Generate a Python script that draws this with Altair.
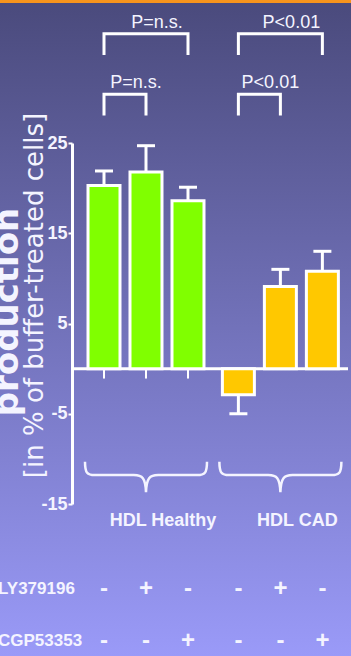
import altair as alt
import pandas as pd

# ---- data -------------------------------------------------------------
group_names = ["HDL Healthy", "HDL CAD"]
bar_groups = ["HDL Healthy", "HDL Healthy", "HDL Healthy", "HDL CAD", "HDL CAD", "HDL CAD"]
values = [20.3, 21.8, 18.6, -2.9, 9.1, 10.8]
errors = [1.6, 2.9, 1.5, 2.1, 1.9, 2.2]
ly379196 = ["-", "+", "-", "-", "+", "-"]
cgp53353 = ["-", "-", "+", "-", "-", "+"]
row_names = ["LY379196", "CGP53353"]

# pairwise comparisons (bar index a vs bar index b)
cmp_first = [0, 0, 3, 3]
cmp_second = [2, 1, 5, 4]
cmp_labels = ["P=n.s.", "P=n.s.", "P<0.01", "P<0.01"]

y_ticks = [-15, -5, 5, 15, 25]

# ---- layout -----------------------------------------------------------
W, H = 276, 361
PAD = {"left": 72, "top": 143, "right": 3, "bottom": 152}
GROUP_GAP = 0.2
WHITE = "#f4f4ff"
SANS = "Liberation Sans"

x_scale = alt.Scale(domain=[-0.762, 5.81], nice=False, zero=False, padding=0)
y_scale = alt.Scale(domain=[-15, 25], nice=False, zero=False, padding=0)

Y_AXIS = alt.Axis(
    values=y_ticks, labelExpr="'' + datum.value",
    title="[in % of buffer-treated cells]", grid=False,
    domainColor="white", domainWidth=3, tickColor="white", tickWidth=2,
    tickSize=4, labelColor=WHITE, labelFont=SANS,
    labelFontSize=18, labelFontWeight="bold", labelPadding=1,
    titleFont="DejaVu Sans", titleFontSize=26, titleFontWeight="normal",
    titleColor=WHITE, titleAngle=270, titleX=-30, titleY=152,
    titleBaseline="alphabetic", titleAlign="center", zindex=1)

group_idx = [group_names.index(g) for g in bar_groups]
pos = [i + GROUP_GAP * gi for i, gi in enumerate(group_idx)]
tips = [v + e if v >= 0 else v - e for v, e in zip(values, errors)]

bars = pd.DataFrame({
    "group": bar_groups, "pos": pos, "value": values, "tip": tips,
    "zero": [0.0] * len(values), "tick_end": [-1.1] * len(values),
})

X = alt.X("pos:Q", scale=x_scale, axis=None)


def Y(field):
    return alt.Y(field, scale=y_scale, axis=Y_AXIS)


# panel with a vertical gradient and the orange top stripe
one = pd.DataFrame({"k": [0]})
background = alt.Chart(one).mark_rect(
    fill={"gradient": "linear", "x1": 0, "y1": 0, "x2": 0, "y2": 1,
          "stops": [{"offset": 0, "color": "#4a4a7c"},
                    {"offset": 1, "color": "#9a9af8"}]}
).encode(
    x=alt.value(-PAD["left"]), x2=alt.value(W + PAD["right"]),
    y=alt.value(-PAD["top"]), y2=alt.value(H + PAD["bottom"]),
)
stripe = alt.Chart(one).mark_rect(fill="#f7941d").encode(
    x=alt.value(-PAD["left"]), x2=alt.value(W + PAD["right"]),
    y=alt.value(-PAD["top"]), y2=alt.value(-PAD["top"] + 3),
)

# bars
bar_layer = alt.Chart(bars).mark_bar(
    size=32, stroke="white", strokeWidth=3, orient="vertical"
).encode(
    x=X, y=Y("value:Q"), y2="zero:Q",
    color=alt.Color("group:N", scale=alt.Scale(domain=group_names,
                    range=["#80ff00", "#ffc800"]), legend=None),
)

# one-sided error bars
stems = alt.Chart(bars).mark_rule(color="white", strokeWidth=3).encode(
    x=X, y=Y("value:Q"), y2="tip:Q")
caps = alt.Chart(bars).mark_tick(
    color="white", orient="horizontal", size=18, thickness=3, opacity=1
).encode(x=X, y=Y("tip:Q"))

# zero line and category ticks of the healthy group
zero = alt.Chart(bars.head(1)).mark_rule(color="white", strokeWidth=3).encode(
    y=Y("zero:Q"))
xticks = alt.Chart(bars[bars.group == "HDL Healthy"]).mark_rule(
    color="white", strokeWidth=2).encode(x=X, y=Y("zero:Q"), y2="tick_end:Q")

# significance brackets
br_rows, br_text = [], []
for k, (a, b, lab) in enumerate(zip(cmp_first, cmp_second, cmp_labels)):
    top = 30.4 + (b - a - 1) * 6.7
    leg = top - 2.35
    for o, (p, yv) in enumerate([(pos[a], leg), (pos[a], top),
                                 (pos[b], top), (pos[b], leg)]):
        br_rows.append({"cmp": k, "o": o, "pos": p, "y": yv})
    br_text.append({"pos": (pos[a] + pos[b]) / 2, "y": top + 0.65, "label": lab})

brackets = alt.Chart(pd.DataFrame(br_rows)).mark_line(
    color="white", strokeWidth=3, strokeJoin="miter", strokeCap="butt"
).encode(x=X, y=Y("y:Q"), detail="cmp:N", order="o:Q")
bracket_labels = alt.Chart(pd.DataFrame(br_text)).mark_text(
    font=SANS, fontSize=18, color=WHITE, baseline="alphabetic", dx=11
).encode(x=X, y=Y("y:Q"), text="label:N")

# group braces and names
centers = [sum(p for p, g in zip(pos, bar_groups) if g == n) / 3 for n in group_names]
grp = pd.DataFrame({"group": group_names, "pos": centers,
                    "brace_y": [-11.8] * 2, "label_y": [-16.85] * 2})
BRACE = ("M-1,-0.22 C-1,-0.03 -0.96,0 -0.84,0 L-0.2,0 C-0.06,0 -0.01,0.04 0,0.28 "
         "C0.01,0.04 0.06,0 0.2,0 L0.84,0 C0.96,0 1,-0.03 1,-0.22")
braces = alt.Chart(grp).mark_point(
    shape=BRACE, size=14884, filled=False, color=WHITE, strokeWidth=2.5, opacity=1
).encode(x=X, y=Y("brace_y:Q"))
group_labels = alt.Chart(grp).mark_text(
    font=SANS, fontSize=18, fontWeight="bold", color=WHITE, dx=17
).encode(x=X, y=Y("label_y:Q"), text="group:N")

# treatment table below the chart
row_level = {"LY379196": -24.4, "CGP53353": -30.2}
signs = pd.DataFrame(
    [{"row": "LY379196", "pos": p, "sign": s, "y": row_level["LY379196"]}
     for p, s in zip(pos, ly379196)] +
    [{"row": "CGP53353", "pos": p, "sign": s, "y": row_level["CGP53353"]}
     for p, s in zip(pos, cgp53353)])
sign_text = alt.Chart(signs).mark_text(
    font=SANS, fontSize=24, fontWeight="bold", color=WHITE
).encode(x=X, y=Y("y:Q"), text="sign:N")
rows = pd.DataFrame({"row": row_names, "y": [row_level[r] for r in row_names]})
row_text = alt.Chart(rows).mark_text(
    font=SANS, fontSize=17, fontWeight="bold", color=WHITE, align="left"
).encode(x=alt.value(-74), y=Y("y:Q"), text="row:N")

# left-hand heading word
heading = alt.Chart(one).mark_text(
    text="production", font="DejaVu Sans", fontWeight="bold", fontSize=34,
    color=WHITE, angle=270, align="center", baseline="alphabetic"
).encode(x=alt.value(-54), y=alt.value(169))

chart = alt.layer(
    background, stripe, heading, zero, xticks, stems, caps, bar_layer,
    brackets, bracket_labels, braces, group_labels, sign_text, row_text,
).properties(
    width=W, height=H, padding=PAD, autosize=alt.AutoSizeParams(type="none"),
    background="#6e6eb8",
).configure_view(stroke=None)

chart.save("out.html", embed_options={"renderer": "svg", "actions": False})
